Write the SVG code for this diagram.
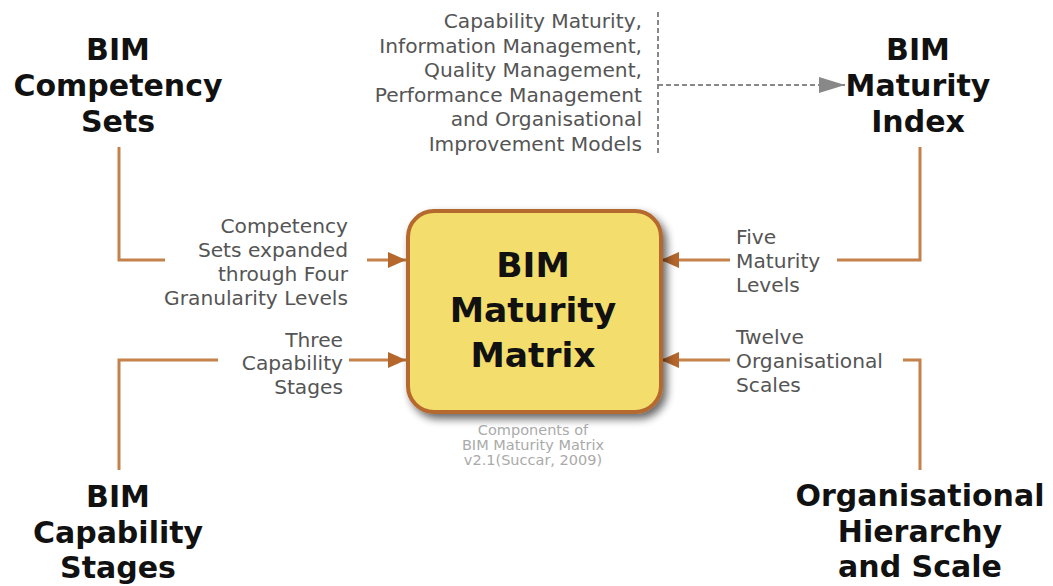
<svg xmlns="http://www.w3.org/2000/svg" width="1053" height="586" viewBox="0 0 1053 586">
<defs>
<style>
.title{font-family:"DejaVu Sans",Verdana,sans-serif;font-weight:bold;font-size:30px;fill:#111;text-anchor:middle}
.boxt{font-family:"DejaVu Sans",Verdana,sans-serif;font-weight:bold;font-size:34.5px;fill:#111;text-anchor:middle}
.lbl{font-family:"DejaVu Sans",Verdana,sans-serif;font-size:20.2px;fill:#555}
.cap{font-family:"DejaVu Sans",Verdana,sans-serif;font-size:14.5px;fill:#aaa;text-anchor:middle}
.br{fill:none;stroke:#c4814b;stroke-width:3}
.arr{fill:none;stroke:#c4814b;stroke-width:3;marker-end:url(#ah)}
.dash{fill:none;stroke:#888;stroke-width:2;stroke-dasharray:5,3}
</style>
<marker id="ah" markerUnits="userSpaceOnUse" markerWidth="20" markerHeight="18" refX="18" refY="8" orient="auto">
<path d="M0,0 L18,8 L0,16 Z" fill="#b5672c"/>
</marker>
<marker id="ahg" markerUnits="userSpaceOnUse" markerWidth="28" markerHeight="18" refX="26" refY="8" orient="auto">
<path d="M0,0 L26,8 L0,16 Z" fill="#888"/>
</marker>
<filter id="sh" x="-10%" y="-10%" width="125%" height="125%">
<feGaussianBlur in="SourceAlpha" stdDeviation="4"/>
<feOffset dx="4" dy="5" result="b"/>
<feComponentTransfer><feFuncA type="linear" slope="0.6"/></feComponentTransfer>
<feMerge><feMergeNode/><feMergeNode in="SourceGraphic"/></feMerge>
</filter>
</defs>
<rect width="1053" height="586" fill="#fff"/>

<g id="connectors">
<polyline class="br" points="119,147 119,260 165,260"/>
<line class="arr" x1="367" y1="260" x2="406" y2="260"/>
<polyline class="br" points="218,360 119,360 119,470"/>
<line class="arr" x1="349" y1="360" x2="406" y2="360"/>
<polyline class="br" points="837,260 920,260 920,147"/>
<line class="arr" x1="730" y1="260" x2="661" y2="260"/>
<polyline class="br" points="903,360 920,360 920,470"/>
<line class="arr" x1="730" y1="360" x2="661" y2="360"/>
<line class="dash" x1="658" y1="12" x2="658" y2="156"/>
<line class="dash" x1="658" y1="85" x2="845" y2="85" marker-end="url(#ahg)"/>
</g>

<g id="matrix">
<rect x="408" y="211" width="253" height="201" rx="26" ry="26" fill="#f3dd6c" stroke="#b5692d" stroke-width="4" filter="url(#sh)"/>
<text class="boxt" x="533" y="277">BIM</text>
<text class="boxt" x="533" y="322">Maturity</text>
<text class="boxt" x="533" y="367">Matrix</text>
<text class="cap" x="533" y="435">Components of</text>
<text class="cap" x="533" y="450">BIM Maturity Matrix</text>
<text class="cap" x="533" y="465">v2.1(Succar, 2009)</text>
</g>

<g id="competency-sets">
<text class="title" x="118" y="60">BIM</text>
<text class="title" x="118" y="96">Competency</text>
<text class="title" x="118" y="132">Sets</text>
</g>

<g id="capability-stages">
<text class="title" x="118" y="507">BIM</text>
<text class="title" x="118" y="543">Capability</text>
<text class="title" x="118" y="578">Stages</text>
</g>

<g id="maturity-index">
<text class="title" x="918" y="60">BIM</text>
<text class="title" x="918" y="96">Maturity</text>
<text class="title" x="918" y="132">Index</text>
</g>

<g id="org-hierarchy">
<text class="title" x="920" y="506">Organisational</text>
<text class="title" x="920" y="542">Hierarchy</text>
<text class="title" x="920" y="577">and Scale</text>
</g>

<g id="labels">
<g text-anchor="end">
<text class="lbl" x="642" y="28">Capability Maturity,</text>
<text class="lbl" x="642" y="53">Information Management,</text>
<text class="lbl" x="642" y="77">Quality Management,</text>
<text class="lbl" x="642" y="102">Performance Management</text>
<text class="lbl" x="642" y="126">and Organisational</text>
<text class="lbl" x="642" y="151">Improvement Models</text>
<text class="lbl" x="348" y="233">Competency</text>
<text class="lbl" x="348" y="257">Sets expanded</text>
<text class="lbl" x="348" y="281">through Four</text>
<text class="lbl" x="348" y="305">Granularity Levels</text>
<text class="lbl" x="343" y="347">Three</text>
<text class="lbl" x="343" y="370">Capability</text>
<text class="lbl" x="343" y="394">Stages</text>
</g>
<text class="lbl" x="736" y="244">Five</text>
<text class="lbl" x="736" y="268">Maturity</text>
<text class="lbl" x="736" y="292">Levels</text>
<text class="lbl" x="736" y="344">Twelve</text>
<text class="lbl" x="736" y="368">Organisational</text>
<text class="lbl" x="736" y="392">Scales</text>
</g>
</svg>
